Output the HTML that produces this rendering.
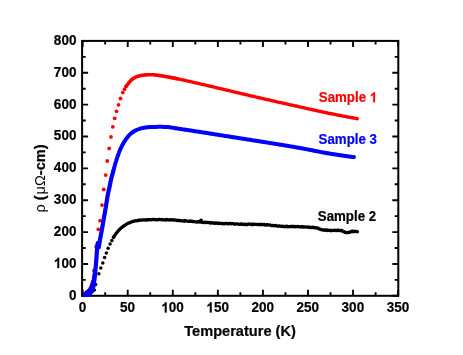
<!DOCTYPE html>
<html><head><meta charset="utf-8"><title>Resistivity vs Temperature</title>
<style>html,body{margin:0;padding:0;background:#fff;}svg{display:block;}</style></head>
<body>
<svg width="463" height="355" viewBox="0 0 463 355">
<rect width="463" height="355" fill="#fff"/>
<rect x="82.1" y="40.9" width="316.2" height="254.9" fill="none" stroke="#000" stroke-width="2"/>
<path d="M82.65 295.80v-6.00M82.65 40.90v6.00M105.19 295.80v-3.60M105.19 40.90v3.60M127.72 295.80v-6.00M127.72 40.90v6.00M150.25 295.80v-3.60M150.25 40.90v3.60M172.79 295.80v-6.00M172.79 40.90v6.00M195.32 295.80v-3.60M195.32 40.90v3.60M217.86 295.80v-6.00M217.86 40.90v6.00M240.40 295.80v-3.60M240.40 40.90v3.60M262.93 295.80v-6.00M262.93 40.90v6.00M285.47 295.80v-3.60M285.47 40.90v3.60M308.00 295.80v-6.00M308.00 40.90v6.00M330.53 295.80v-3.60M330.53 40.90v3.60M353.07 295.80v-6.00M353.07 40.90v6.00M375.61 295.80v-3.60M375.61 40.90v3.60M398.14 295.80v-6.00M398.14 40.90v6.00M82.10 295.80h6.00M398.30 295.80h-6.00M82.10 279.87h3.60M398.30 279.87h-3.60M82.10 263.94h6.00M398.30 263.94h-6.00M82.10 248.01h3.60M398.30 248.01h-3.60M82.10 232.08h6.00M398.30 232.08h-6.00M82.10 216.14h3.60M398.30 216.14h-3.60M82.10 200.21h6.00M398.30 200.21h-6.00M82.10 184.28h3.60M398.30 184.28h-3.60M82.10 168.35h6.00M398.30 168.35h-6.00M82.10 152.42h3.60M398.30 152.42h-3.60M82.10 136.49h6.00M398.30 136.49h-6.00M82.10 120.56h3.60M398.30 120.56h-3.60M82.10 104.62h6.00M398.30 104.62h-6.00M82.10 88.69h3.60M398.30 88.69h-3.60M82.10 72.76h6.00M398.30 72.76h-6.00M82.10 56.83h3.60M398.30 56.83h-3.60M82.10 40.90h6.00M398.30 40.90h-6.00" stroke="#000" stroke-width="1.9" fill="none"/>
<clipPath id="c"><rect x="83.0" y="40.9" width="315.3" height="255.9"/></clipPath>
<g clip-path="url(#c)">
<g fill="#f00"><circle cx="92.6" cy="282.0" r="1.90"/><circle cx="94.0" cy="270.7" r="1.90"/><circle cx="96.2" cy="246.7" r="1.90"/><circle cx="98.3" cy="229.3" r="1.90"/><circle cx="100.1" cy="220.7" r="1.90"/><circle cx="102.0" cy="205.1" r="1.90"/><circle cx="103.7" cy="189.4" r="1.90"/><circle cx="105.7" cy="175.1" r="1.90"/><circle cx="107.3" cy="161.0" r="1.90"/><circle cx="109.2" cy="148.4" r="1.90"/><circle cx="111.0" cy="136.9" r="1.90"/><circle cx="112.8" cy="126.8" r="1.90"/><circle cx="114.7" cy="118.3" r="1.90"/><circle cx="116.5" cy="111.3" r="1.90"/><circle cx="118.5" cy="104.8" r="1.90"/><circle cx="120.5" cy="98.5" r="1.90"/><circle cx="122.8" cy="92.6" r="1.90"/><circle cx="124.5" cy="89.2" r="1.90"/><circle cx="126.1" cy="86.3" r="1.90"/></g>
<polyline fill="none" stroke="#f00" stroke-width="3.4" stroke-linecap="round" stroke-linejoin="round" points="83.5,294.4 84.2,293.9 84.9,293.4 85.5,292.9 86.2,292.4 86.8,291.9 87.4,291.3 88.1,290.8 88.7,290.2 89.3,289.6 89.8,288.9 90.2,288.2 90.6,287.5 91.0,286.7 91.3,286.0 91.6,285.2 91.9,284.4 92.2,283.6 92.4,282.8 92.6,282.0"/>
<polyline fill="none" stroke="#f00" stroke-width="3.6" stroke-linecap="round" stroke-linejoin="round" points="126.1,86.3 126.4,85.9 126.8,85.4 127.1,85.0 127.5,84.5 127.8,84.1 128.2,83.6 128.5,83.2 128.9,82.8 129.2,82.3 129.6,81.9 129.9,81.4 130.3,81.0 130.7,80.6 131.1,80.2 131.5,79.9 131.9,79.5 132.3,79.2 132.8,78.8 133.2,78.5 133.7,78.2 134.2,77.9 134.7,77.6 135.2,77.3 135.7,77.1 136.2,76.9 136.7,76.7 137.2,76.5 137.8,76.3 138.3,76.2 138.9,76.0 139.4,75.9 139.9,75.8 140.5,75.6 141.0,75.5 141.6,75.4 142.1,75.3 142.7,75.3 143.2,75.2 143.8,75.1 144.4,75.0 144.9,75.0 145.5,74.9 146.0,74.9 146.6,74.9 147.1,74.8 147.7,74.8 148.3,74.8 148.8,74.7 149.4,74.7 149.9,74.7 150.5,74.7 151.1,74.7 151.6,74.7 152.2,74.7 152.7,74.8 153.3,74.8 153.8,74.8 154.4,74.9 155.0,74.9 155.5,75.0 156.1,75.1 156.6,75.1 157.2,75.2 157.7,75.3 158.3,75.3 158.9,75.4 159.4,75.5 160.0,75.6 160.5,75.6 161.1,75.7 161.6,75.8 162.2,75.9 162.7,76.0 163.3,76.1 163.8,76.2 164.4,76.3 164.9,76.4 165.5,76.5 166.0,76.6 166.6,76.7 167.1,76.8 167.7,76.9 168.2,77.0 168.8,77.1 169.3,77.2 169.9,77.3 170.4,77.4 171.0,77.5 171.5,77.6 172.1,77.7 172.6,77.8 173.2,77.9 173.7,78.0 174.3,78.1 174.8,78.3 175.4,78.4 175.9,78.5 176.5,78.6 177.0,78.7"/>
<polyline fill="none" stroke="#f00" stroke-width="3.4" stroke-linecap="round" stroke-linejoin="round" points="170.0,77.3 170.9,77.5 171.9,77.7 172.8,77.9 173.8,78.0 174.7,78.2 175.7,78.4 176.6,78.6 177.6,78.8 178.5,79.0 179.4,79.2 180.4,79.4 181.3,79.6 182.3,79.8 183.2,80.0 184.2,80.2 185.1,80.4 186.0,80.7 187.0,80.9 187.9,81.1 188.9,81.3 189.8,81.5 190.7,81.7 191.7,81.9 192.6,82.1 193.6,82.3 194.5,82.6 195.4,82.8 196.4,83.0 197.3,83.2 198.3,83.4 199.2,83.6 200.1,83.8 201.1,84.1 202.0,84.3 203.0,84.5 203.9,84.7 204.8,84.9 205.8,85.2 206.7,85.4 207.7,85.6 208.6,85.8 209.5,86.0 210.5,86.3 211.4,86.5 212.3,86.7 213.3,86.9 214.2,87.1 215.2,87.4 216.1,87.6 217.0,87.8 218.0,88.0 218.9,88.3 219.9,88.5 220.8,88.7 221.7,88.9 222.7,89.1 223.6,89.4 224.5,89.6 225.5,89.8 226.4,90.0 227.4,90.3 228.3,90.5 229.2,90.7 230.2,90.9 231.1,91.2 232.0,91.4 233.0,91.6 233.9,91.8 234.9,92.0 235.8,92.3 236.7,92.5 237.7,92.7 238.6,92.9 239.6,93.1 240.5,93.4 241.4,93.6 242.4,93.8 243.3,94.0 244.2,94.2 245.2,94.5 246.1,94.7 247.1,94.9 248.0,95.1 248.9,95.3 249.9,95.6 250.8,95.8 251.8,96.0 252.7,96.2 253.6,96.4 254.6,96.7 255.5,96.9 256.4,97.1 257.4,97.3 258.3,97.5 259.3,97.8 260.2,98.0 261.1,98.2 262.1,98.4 263.0,98.6 264.0,98.8 264.9,99.1 265.8,99.3 266.8,99.5 267.7,99.7 268.7,99.9 269.6,100.1 270.5,100.4 271.5,100.6 272.4,100.8 273.4,101.0 274.3,101.2 275.2,101.4 276.2,101.6 277.1,101.9 278.1,102.1 279.0,102.3 279.9,102.5 280.9,102.7 281.8,102.9 282.8,103.1 283.7,103.3 284.6,103.5 285.6,103.7 286.5,103.9 287.5,104.1 288.4,104.3 289.4,104.6 290.3,104.8 291.2,105.0 292.2,105.2 293.1,105.4 294.1,105.6 295.0,105.8 295.9,106.0 296.9,106.2 297.8,106.4 298.8,106.7 299.7,106.9 300.6,107.1 301.6,107.3 302.5,107.5 303.5,107.7 304.4,107.9 305.3,108.1 306.3,108.4 307.2,108.6 308.2,108.8 309.1,109.0 310.1,109.2 311.0,109.4 311.9,109.6 312.9,109.8 313.8,110.0 314.8,110.2 315.7,110.5 316.6,110.7 317.6,110.9 318.5,111.1 319.5,111.3 320.4,111.5 321.3,111.7 322.3,111.9 323.2,112.1 324.2,112.3 325.1,112.5 326.1,112.7 327.0,112.9 327.9,113.1 328.9,113.3 329.8,113.5 330.8,113.7 331.7,113.8 332.7,114.0 333.6,114.2 334.6,114.4 335.5,114.6 336.5,114.8 337.4,115.0 338.3,115.2 339.3,115.3 340.2,115.5 341.2,115.7 342.1,115.9 343.1,116.1 344.0,116.3 345.0,116.4 345.9,116.6 346.9,116.8 347.8,117.0 348.8,117.1 349.7,117.3 350.7,117.5 351.6,117.7 352.6,117.8 353.5,118.0 354.5,118.2 355.4,118.4 356.4,118.5 357.3,118.7"/>
<g fill="#000"><circle cx="84.0" cy="294.6" r="1.75"/><circle cx="86.0" cy="294.3" r="1.75"/><circle cx="88.0" cy="293.8" r="1.75"/><circle cx="90.0" cy="293.0" r="1.75"/><circle cx="92.2" cy="291.8" r="1.75"/><circle cx="94.3" cy="290.1" r="1.75"/><circle cx="95.7" cy="284.4" r="1.75"/><circle cx="98.8" cy="273.8" r="1.75"/><circle cx="100.8" cy="268.1" r="1.75"/><circle cx="102.8" cy="262.9" r="1.75"/><circle cx="104.6" cy="257.6" r="1.75"/><circle cx="106.3" cy="252.9" r="1.75"/><circle cx="108.1" cy="248.2" r="1.75"/><circle cx="110.1" cy="244.1" r="1.75"/><circle cx="111.9" cy="240.4" r="1.75"/><circle cx="113.5" cy="237.2" r="1.75"/><circle cx="201" cy="220.5" r="1.9"/></g>
<polyline fill="none" stroke="#000" stroke-width="3.3" stroke-linecap="round" stroke-linejoin="round" points="113.5,237.2 114.0,236.5 114.4,235.8 114.9,235.1 115.4,234.4 115.9,233.8 116.4,233.1 116.9,232.4 117.5,231.8 118.0,231.1 118.6,230.5 119.1,229.9 119.7,229.3 120.3,228.7 121.0,228.1 121.6,227.6 122.3,227.1 122.9,226.6 123.6,226.1 124.3,225.6 125.0,225.1 125.7,224.7 126.4,224.2 127.2,223.8 127.9,223.4 128.7,222.8 129.4,222.8 130.2,222.6 131.0,222.2 131.8,221.8 132.6,221.4 133.4,221.3 134.2,221.1 135.1,220.9 135.9,220.7 136.7,220.8 137.5,220.7 138.4,220.2 139.2,220.3 140.0,220.1 140.9,220.1 141.7,220.0 142.6,220.1 143.4,219.9 144.2,219.9 145.1,220.0 145.9,219.8 146.8,220.1 147.6,219.6 148.4,219.9 149.3,219.7 150.1,219.7 151.0,219.8 151.8,219.7 152.6,219.6 153.5,219.3 154.3,219.4 155.2,219.8 156.0,219.6 156.8,219.7 157.7,219.9 158.5,219.7 159.4,219.3 160.2,219.5 161.1,219.7 161.9,219.5 162.7,219.9 163.6,219.9 164.4,219.9 165.3,219.7 166.1,220.0 166.9,219.5 167.8,219.7 168.6,219.8 169.5,220.0 170.3,219.9 171.1,219.7 172.0,219.9 172.8,219.9 173.7,220.0 174.5,219.9 175.3,220.1 176.2,220.2 177.0,220.5 177.9,220.5 178.7,220.4 179.5,220.4 180.4,220.7 181.2,220.8 182.0,220.8 182.9,220.9 183.7,221.0 184.6,220.5 185.4,221.1 186.2,220.8 187.1,221.0 187.9,221.3 188.8,221.3 189.6,221.0 190.4,221.4 191.3,221.1 192.1,221.3 192.9,221.7 193.8,221.5 194.6,221.7 195.5,221.8 196.3,222.0 197.1,222.0 198.0,221.6 198.8,221.9 199.6,222.0 200.5,221.8 201.3,222.2 202.2,222.3 203.0,222.5 203.8,222.6 204.7,222.2 205.5,222.3 206.4,222.6 207.2,222.3 208.0,222.4 208.9,222.7 209.7,222.5 210.5,223.0 211.4,223.1 212.2,222.6 213.1,223.0 213.9,223.2 214.7,223.4 215.6,223.0 216.4,222.9 217.3,223.4 218.1,223.5 218.9,223.1 219.8,223.3 220.6,223.5 221.5,223.7 222.3,223.3 223.1,223.6 224.0,223.8 224.8,223.6 225.7,223.4 226.5,223.4 227.3,223.6 228.2,223.9 229.0,223.5 229.9,223.5 230.7,223.8 231.5,223.6 232.4,223.7 233.2,223.6 234.1,224.0 234.9,224.1 235.7,224.0 236.6,223.8 237.4,223.9 238.3,224.1 239.1,224.4 239.9,224.4 240.8,224.0 241.6,223.9 242.5,224.4 243.3,224.5 244.1,224.2 245.0,224.4 245.8,224.5 246.7,224.4 247.5,224.6 248.3,224.0 249.2,224.2 250.0,224.2 250.9,224.1 251.7,224.7 252.6,224.1 253.4,224.5 254.2,224.2 255.1,224.4 255.9,224.4 256.8,224.3 257.6,224.5 258.4,224.6 259.3,224.4 260.1,224.7 261.0,224.4 261.8,224.4 262.6,224.6 263.5,224.6 264.3,224.5 265.2,225.0 266.0,225.0 266.8,224.6 267.7,224.9 268.5,224.9 269.3,225.1 270.2,225.0 271.0,225.3 271.9,225.6 272.7,225.4 273.5,225.6 274.4,225.7 275.2,225.8 276.0,225.4 276.9,226.0 277.7,226.2 278.6,226.0 279.4,225.9 280.2,226.2 281.1,226.3 281.9,226.3 282.7,226.1 283.6,226.6 284.4,226.7 285.3,226.4 286.1,226.5 286.9,226.2 287.8,226.8 288.6,226.7 289.5,226.6 290.3,226.7 291.1,226.4 292.0,226.5 292.8,226.4 293.7,226.7 294.5,226.4 295.4,226.9 296.2,226.6 297.0,226.6 297.9,226.4 298.7,226.8 299.6,226.9 300.4,226.8 301.2,226.6 302.1,227.0 302.9,226.6 303.8,227.1 304.6,227.0 305.4,226.8 306.3,227.0 307.1,227.2 308.0,227.0 308.8,227.4 309.6,227.2 310.5,227.6 311.3,227.6 312.2,227.2 313.0,227.6 313.9,227.4 314.7,227.8 315.5,227.7 316.3,227.8 317.1,228.2 317.9,228.0 318.7,228.7 319.4,229.0 320.2,229.1 321.0,229.7 321.9,229.7 322.7,230.0 323.5,230.0 324.3,229.9 325.2,230.4 326.0,230.0 326.9,230.0 327.7,230.5 328.6,230.3 329.4,230.3 330.3,230.7 331.1,230.3 332.0,230.7 332.8,230.5 333.7,230.3 334.5,230.2 335.4,230.3 336.2,230.7 337.1,230.4 337.9,230.2 338.7,230.3 339.6,230.7 340.4,230.3 341.2,230.7 342.0,230.5 342.7,231.4 343.5,231.6 344.2,231.7 345.0,232.5 345.9,232.3 346.7,232.7 347.5,232.6 348.4,232.4 349.2,232.4 350.0,232.2 350.8,231.8 351.6,231.4 352.4,231.1 353.2,231.7 354.0,231.2 354.9,231.5 355.7,231.3 356.6,231.4 357.4,231.8"/>
<polygon fill="#00f" points="82.9,293.4 84.8,291.8 87,289.9 88.9,287.9 90.5,284.8 91.5,281.4 92.2,277.9 93.1,273.5 93.8,270 97.4,270 97,274.4 96.6,278.7 96.1,283.1 95.3,287.5 93.9,291 92.2,294 90.9,296.8 82.9,296.8"/>
<polyline fill="none" stroke="#00f" stroke-width="4.2" stroke-linecap="round" stroke-linejoin="round" points="83.0,295.2 83.8,295.2 84.5,295.1 85.2,294.9 85.9,294.7 86.6,294.5 87.2,294.2 87.8,293.9 88.5,293.4 89.0,292.9 89.5,292.3 90.0,291.8 90.3,291.2 90.7,290.6 91.0,289.9 91.3,289.2 91.6,288.5 91.9,287.8 92.1,287.2 92.4,286.5 92.6,285.8 92.8,285.1 93.0,284.4 93.1,283.7 93.3,283.0 93.5,282.2 93.6,281.5 93.7,280.8 93.9,280.1 94.0,279.4 94.1,278.7 94.2,277.9 94.3,277.2 94.4,276.5 94.5,275.8 94.6,275.1 94.7,274.3 94.8,273.6 94.9,272.9 95.0,272.2 95.1,271.5 95.2,270.7 95.3,270.0 95.4,269.3 95.5,268.6 95.6,267.8 95.7,267.1 95.7,266.4 95.8,265.7 95.9,265.0 95.9,264.2 96.0,263.5 96.1,262.8 96.1,262.1 96.2,261.3 96.2,260.6 96.3,259.9 96.4,259.2 96.4,258.4 96.5,257.7 96.5,257.0 96.6,256.2 96.6,255.5 96.7,254.8 96.7,254.1 96.8,253.3 96.8,252.6 96.9,251.9 96.9,251.2 97.0,250.4 97.0,249.7 97.1,249.0 97.1,248.3 97.2,247.5 97.3,246.8 97.3,246.1 97.4,245.4 97.5,244.6 97.6,243.9 97.7,243.2"/>
<polyline fill="none" stroke="#00f" stroke-width="4.2" stroke-linecap="round" stroke-linejoin="round" points="98.8,247.2 98.9,246.2 99.1,245.3 99.2,244.3 99.4,243.3 99.6,242.4 99.7,241.4 99.9,240.5 100.0,239.5 100.2,238.5 100.4,237.6 100.6,236.6 100.8,235.7 100.9,234.7 101.1,233.7 101.3,232.8 101.5,231.8 101.7,230.9 101.8,229.9 102.0,228.9 102.2,228.0 102.4,227.0 102.5,226.1 102.7,225.1 102.9,224.1 103.0,223.2 103.2,222.2 103.4,221.3 103.5,220.3 103.7,219.3 103.8,218.4 104.0,217.4 104.2,216.4 104.3,215.5 104.5,214.5 104.7,213.6 104.9,212.6 105.0,211.6 105.2,210.7 105.4,209.7 105.5,208.8 105.7,207.8 105.8,206.8 106.0,205.9 106.1,204.9 106.3,203.9 106.5,203.0 106.6,202.0 106.8,201.0 106.9,200.1 107.1,199.1 107.2,198.1 107.4,197.2 107.5,196.2 107.7,195.3 107.9,194.3 108.1,193.4 108.3,192.4 108.5,191.4 108.7,190.5 108.9,189.5 109.2,188.6 109.4,187.6 109.6,186.7 109.8,185.7 110.0,184.8 110.2,183.8 110.4,182.9 110.5,181.9 110.7,180.9 111.0,180.0 111.2,179.0 111.4,178.1 111.6,177.1 111.9,176.2 112.1,175.3 112.4,174.3 112.7,173.4 112.9,172.4 113.2,171.5"/>
<polyline fill="none" stroke="#00f" stroke-width="4.0" stroke-linecap="round" stroke-linejoin="round" points="113.2,171.5 113.4,170.6 113.6,169.7 113.9,168.9 114.1,168.0 114.3,167.1 114.6,166.3 114.8,165.4 115.0,164.5 115.3,163.7 115.5,162.8 115.8,161.9 116.1,161.1 116.4,160.2 116.6,159.4 116.9,158.5 117.2,157.7 117.5,156.8 117.8,156.0 118.1,155.1 118.4,154.3 118.7,153.4 119.0,152.6 119.3,151.7 119.7,150.9 120.0,150.0 120.3,149.2 120.7,148.4 121.1,147.6 121.5,146.8 121.9,146.0 122.3,145.2 122.8,144.4 123.2,143.6 123.7,142.8 124.1,142.0 124.6,141.3 125.1,140.5 125.6,139.7 126.1,139.0 126.6,138.3 127.2,137.6 127.7,136.9 128.3,136.2 128.9,135.5 129.5,134.8 130.2,134.2 130.9,133.6 131.6,133.0 132.3,132.5 133.0,132.0 133.7,131.5 134.5,131.0 135.3,130.6 136.1,130.2 137.0,129.8 137.8,129.5 138.6,129.2 139.5,128.9 140.3,128.6 141.2,128.3 142.1,128.1 143.0,127.9 143.9,127.8 144.7,127.6 145.6,127.5 146.5,127.4 147.4,127.3 148.3,127.2 149.2,127.1 150.1,127.1 151.0,127.0 151.9,127.0 152.8,127.0 153.7,126.9 154.6,126.9 155.5,126.9 156.4,126.9 157.3,126.8 158.2,126.8 159.1,126.8 160.0,126.8 160.9,126.8 161.8,126.8 162.7,126.8 163.6,126.9 164.5,126.9 165.4,126.9 166.3,127.0 167.2,127.0 168.1,127.1 169.0,127.1 169.9,127.3 170.8,127.4 171.7,127.6 172.6,127.7 173.5,127.9 174.4,128.0 175.3,128.2 176.1,128.3 177.0,128.5 177.9,128.6 178.8,128.7 179.7,128.9 180.6,129.0 181.5,129.1 182.4,129.3 183.3,129.4 184.2,129.5 185.1,129.7 185.9,129.8 186.8,129.9 187.7,130.1 188.6,130.2 189.5,130.3 190.4,130.5 191.3,130.6 192.2,130.7 193.1,130.9 194.0,131.0 194.9,131.2 195.7,131.3 196.6,131.4 197.5,131.6 198.4,131.7 199.3,131.8 200.2,132.0 201.1,132.1 202.0,132.3 202.9,132.4 203.8,132.5 204.6,132.7 205.5,132.8 206.4,133.0 207.3,133.1 208.2,133.2 209.1,133.4 210.0,133.5 210.9,133.7 211.8,133.8 212.7,133.9 213.5,134.1 214.4,134.2 215.3,134.4 216.2,134.5 217.1,134.6 218.0,134.8 218.9,134.9 219.8,135.1 220.7,135.2 221.6,135.4 222.4,135.5 223.3,135.6 224.2,135.8 225.1,135.9 226.0,136.1 226.9,136.2 227.8,136.3 228.7,136.5 229.6,136.6 230.5,136.8 231.3,136.9 232.2,137.0 233.1,137.2 234.0,137.3 234.9,137.5 235.8,137.6 236.7,137.7 237.6,137.9 238.5,138.0 239.4,138.2 240.2,138.3 241.1,138.4 242.0,138.6 242.9,138.7 243.8,138.9 244.7,139.0 245.6,139.1 246.5,139.3 247.4,139.4 248.3,139.6 249.1,139.7 250.0,139.8 250.9,140.0 251.8,140.1 252.7,140.3 253.6,140.4 254.5,140.5 255.4,140.7 256.3,140.8 257.2,141.0 258.0,141.1 258.9,141.2 259.8,141.4 260.7,141.5 261.6,141.7 262.5,141.8 263.4,141.9 264.3,142.1 265.2,142.2 266.1,142.4 266.9,142.5 267.8,142.6 268.7,142.8 269.6,142.9 270.5,143.1 271.4,143.2 272.3,143.4 273.2,143.5 274.1,143.6 275.0,143.8 275.8,143.9 276.7,144.1 277.6,144.2 278.5,144.4 279.4,144.5 280.3,144.7 281.2,144.8 282.1,145.0 283.0,145.1 283.8,145.2 284.7,145.4 285.6,145.5 286.5,145.7 287.4,145.8 288.3,146.0 289.2,146.1 290.1,146.3 290.9,146.4 291.8,146.6 292.7,146.7 293.6,146.9 294.5,147.1 295.4,147.2 296.3,147.4 297.2,147.5 298.0,147.7 298.9,147.8 299.8,148.0 300.7,148.1 301.6,148.3 302.5,148.5 303.4,148.6 304.3,148.8 305.1,148.9 306.0,149.1 306.9,149.3 307.8,149.4 308.7,149.6 309.6,149.8 310.4,150.0 311.3,150.1 312.2,150.3 313.1,150.5 314.0,150.7 314.9,150.9 315.7,151.0 316.6,151.2 317.5,151.4 318.4,151.6 319.3,151.7 320.2,151.9 321.1,152.1 321.9,152.3 322.8,152.4 323.7,152.6 324.6,152.7 325.5,152.9 326.4,153.0 327.3,153.2 328.1,153.3 329.0,153.5 329.9,153.6 330.8,153.8 331.7,153.9 332.6,154.1 333.5,154.2 334.4,154.3 335.3,154.5 336.1,154.6 337.0,154.7 337.9,154.9 338.8,155.0 339.7,155.2 340.6,155.3 341.5,155.4 342.4,155.5 343.3,155.7 344.2,155.8 345.1,155.9 346.0,156.1 346.8,156.2 347.7,156.3 348.6,156.4 349.5,156.5 350.4,156.7 351.3,156.8 352.2,156.9 353.1,157.0 354.0,157.1"/>
</g>
<g font-family="'Liberation Sans', sans-serif" font-weight="bold" opacity="0.999" stroke-linejoin="round">
<g transform="translate(76.40,299.80) scale(0.965,1)" font-size="14.0px" fill="#000" stroke="#000" stroke-width="0.22"><text x="-7.78" y="0">0</text></g>
<g transform="translate(76.40,267.94) scale(0.965,1)" font-size="14.0px" fill="#000" stroke="#000" stroke-width="0.22"><path transform="translate(-23.35,0) scale(0.00684,-0.00684)" d="M806 0H524V1062Q370 918 160 849V1105Q270 1141 399 1241.5Q528 1342 576 1476H806Z" stroke-width="32"/><text x="-15.57" y="0">00</text></g>
<g transform="translate(76.40,236.08) scale(0.965,1)" font-size="14.0px" fill="#000" stroke="#000" stroke-width="0.22"><text x="-23.35" y="0">200</text></g>
<g transform="translate(76.40,204.21) scale(0.965,1)" font-size="14.0px" fill="#000" stroke="#000" stroke-width="0.22"><text x="-23.35" y="0">300</text></g>
<g transform="translate(76.40,172.35) scale(0.965,1)" font-size="14.0px" fill="#000" stroke="#000" stroke-width="0.22"><text x="-23.35" y="0">400</text></g>
<g transform="translate(76.40,140.49) scale(0.965,1)" font-size="14.0px" fill="#000" stroke="#000" stroke-width="0.22"><text x="-23.35" y="0">500</text></g>
<g transform="translate(76.40,108.62) scale(0.965,1)" font-size="14.0px" fill="#000" stroke="#000" stroke-width="0.22"><text x="-23.35" y="0">600</text></g>
<g transform="translate(76.40,76.76) scale(0.965,1)" font-size="14.0px" fill="#000" stroke="#000" stroke-width="0.22"><text x="-23.35" y="0">700</text></g>
<g transform="translate(76.40,44.90) scale(0.965,1)" font-size="14.0px" fill="#000" stroke="#000" stroke-width="0.22"><text x="-23.35" y="0">800</text></g>
<g transform="translate(82.45,312.45) scale(0.965,1)" font-size="14.0px" fill="#000" stroke="#000" stroke-width="0.22"><text x="-3.89" y="0">0</text></g>
<g transform="translate(127.52,312.45) scale(0.965,1)" font-size="14.0px" fill="#000" stroke="#000" stroke-width="0.22"><text x="-7.78" y="0">50</text></g>
<g transform="translate(172.59,312.45) scale(0.965,1)" font-size="14.0px" fill="#000" stroke="#000" stroke-width="0.22"><path transform="translate(-11.68,0) scale(0.00684,-0.00684)" d="M806 0H524V1062Q370 918 160 849V1105Q270 1141 399 1241.5Q528 1342 576 1476H806Z" stroke-width="32"/><text x="-3.89" y="0">00</text></g>
<g transform="translate(217.66,312.45) scale(0.965,1)" font-size="14.0px" fill="#000" stroke="#000" stroke-width="0.22"><path transform="translate(-11.68,0) scale(0.00684,-0.00684)" d="M806 0H524V1062Q370 918 160 849V1105Q270 1141 399 1241.5Q528 1342 576 1476H806Z" stroke-width="32"/><text x="-3.89" y="0">50</text></g>
<g transform="translate(262.73,312.45) scale(0.965,1)" font-size="14.0px" fill="#000" stroke="#000" stroke-width="0.22"><text x="-11.68" y="0">200</text></g>
<g transform="translate(307.80,312.45) scale(0.965,1)" font-size="14.0px" fill="#000" stroke="#000" stroke-width="0.22"><text x="-11.68" y="0">250</text></g>
<g transform="translate(352.87,312.45) scale(0.965,1)" font-size="14.0px" fill="#000" stroke="#000" stroke-width="0.22"><text x="-11.68" y="0">300</text></g>
<g transform="translate(397.94,312.45) scale(0.965,1)" font-size="14.0px" fill="#000" stroke="#000" stroke-width="0.22"><text x="-11.68" y="0">350</text></g>
<g transform="translate(240.60,336.20) scale(1.000,1)" font-size="14.6px" fill="#000" stroke="#000" stroke-width="0.22"><text x="-56.38" y="0">Temperature (K)</text></g>
<text transform="translate(44.9,178.5) rotate(-90) scale(0.94,1)" font-size="15.5px" text-anchor="middle" fill="#000" stroke="#000" stroke-width="0.25"><tspan font-weight="normal" stroke="none">ρ</tspan> (<tspan font-weight="normal" stroke="none" dx="1">μΩ</tspan>-cm)</text>
<g transform="translate(318.80,102.30) scale(0.950,1)" font-size="14.0px" fill="#f00" stroke="#f00" stroke-width="0.22"><text x="0.00" y="0">Sample </text><path transform="translate(53.69,0) scale(0.00684,-0.00684)" d="M806 0H524V1062Q370 918 160 849V1105Q270 1141 399 1241.5Q528 1342 576 1476H806Z" stroke-width="32"/></g>
<g transform="translate(318.60,143.90) scale(0.950,1)" font-size="14.0px" fill="#00f" stroke="#00f" stroke-width="0.22"><text x="0.00" y="0">Sample 3</text></g>
<g transform="translate(317.80,220.70) scale(0.950,1)" font-size="14.0px" fill="#000" stroke="#000" stroke-width="0.22"><text x="0.00" y="0">Sample 2</text></g>
</g>
</svg>
</body></html>
